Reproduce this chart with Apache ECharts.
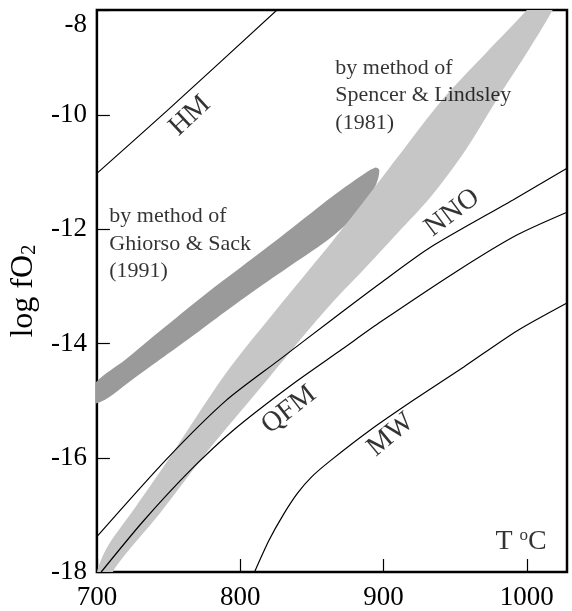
<!DOCTYPE html>
<html>
<head>
<meta charset="utf-8">
<script src="https://cdn.jsdelivr.net/npm/echarts@6/dist/echarts.min.js"></script>
<style>
  html, body { margin: 0; padding: 0; background: #fff; }
  #chart { width: 572px; height: 611px; }
</style>
</head>
<body>
<div id="chart"></div>
<script>
// tick labels
const xTickLabels = ['700', '800', '900', '1000']
const yTickLabels = ['-18', '-16', '-14', '-12', '-10', '-8']

// buffer curves, [T °C, log fO2]
const hmLine = [[700, -11.02], [750, -9.9], [830, -8.06]]
const nnoLine = [[700, -17.38], [748, -16.04], [790, -15.0], [827, -14.29], [863, -13.6], [898, -12.94], [933, -12.31], [990, -11.49], [1028, -10.93]]
const qfmLine = [[703, -18.0], [732, -17.12], [766, -16.2], [796, -15.5], [836, -14.72], [871, -14.1], [898, -13.62], [952, -12.72], [993, -12.1], [1028, -11.7]]
const mwLine = [[810, -18.0], [820, -17.45], [830, -17.0], [840, -16.62], [850, -16.33], [863, -16.05], [891, -15.51], [921, -14.99], [956, -14.41], [993, -13.78], [1028, -13.29]]

// estimate fields (outline of each shaded area)
const ghiorsoBand = [
  [698, -14.72], [720, -14.28], [744, -13.78], [774, -13.17], [808, -12.52], [836, -11.98], [864, -11.43], [884, -11.07], [894, -10.92],
  [897, -10.96], [895, -11.2], [886, -11.6], [864, -12.13], [836, -12.62], [810, -13.07], [789, -13.45], [766, -13.88], [744, -14.28],
  [720, -14.72], [706, -14.98], [698, -15.04]
]
const spencerBand = [
  [699, -18.2], [706, -17.62], [727, -16.86], [748, -16.1], [790, -14.52], [827, -13.35], [864, -12.22], [882, -11.65], [910, -10.73],
  [941, -9.73], [972, -8.9], [1000, -8.16], [1012, -7.8],
  [1024, -7.8], [1018, -8.16], [999, -8.95], [979, -9.73], [956, -10.66], [933, -11.43], [910, -12.06], [886, -12.71], [864, -13.29],
  [847, -13.78], [813, -14.81], [778, -15.86], [744, -16.97], [712, -17.95], [710, -18.2]
]

const bufferNames = ['HM', 'NNO', 'QFM', 'MW']
const ghiorsoText = 'by method of\nGhiorso & Sack\n(1991)'
const spencerText = 'by method of\nSpencer & Lindsley\n(1981)'

const FONT = '"Liberation Serif", "Times New Roman", serif'

const bandSeries = (points, fill) => ({
  type: 'custom',
  clip: true,
  silent: true,
  data: [0],
  renderItem: (params, api) => ({
    type: 'polygon',
    shape: { points: points.map(p => api.coord(p)), smooth: 0.3 },
    style: { fill: fill }
  })
})

const lineSeries = data => ({
  type: 'line',
  data: data,
  showSymbol: false,
  smooth: 0.25,
  clip: true,
  silent: true,
  lineStyle: { color: '#000', width: 1.2 }
})

// rotated buffer name sitting next to its curve
const tag = (value, text, rotate) => ({
  value: value,
  label: { rotate: rotate, formatter: text, color: '#000', fontFamily: FONT, fontSize: 28 }
})

const note = (value, text) => ({
  value: value,
  label: {
    position: 'right', distance: 0, align: 'left', color: '#000',
    fontFamily: FONT, fontSize: 22, lineHeight: 27.5, formatter: text
  }
})

const chart = echarts.init(document.getElementById('chart'))

chart.setOption({
  animation: false,
  grid: { left: 93, right: 5, top: 10, bottom: 39, show: true, borderColor: '#000', borderWidth: 2.5 },
  xAxis: {
    type: 'value',
    min: 700,
    max: 1028,
    interval: 100,
    axisLine: { show: false },
    axisTick: { inside: true, length: 13, lineStyle: { color: '#000', width: 1.2 } },
    splitLine: { show: false },
    axisLabel: {
      showMaxLabel: false,
      margin: 12,
      color: '#000',
      fontFamily: FONT,
      fontSize: 27,
      formatter: (v, i) => xTickLabels[i] ?? ''
    }
  },
  yAxis: {
    type: 'value',
    min: -18,
    max: -8.16,
    interval: 2,
    name: '{a|log fO}{b|2}',
    nameLocation: 'middle',
    nameGap: 48,
    nameTextStyle: {
      rich: {
        a: { fontFamily: FONT, fontSize: 32, color: '#000', verticalAlign: 'bottom' },
        b: { fontFamily: FONT, fontSize: 21, color: '#000', verticalAlign: 'bottom' }
      }
    },
    axisLine: { show: false },
    axisTick: { inside: true, length: 13, lineStyle: { color: '#000', width: 1.2 } },
    splitLine: { show: false },
    axisLabel: {
      margin: 10,
      color: '#000',
      fontFamily: FONT,
      fontSize: 27,
      formatter: (v, i) => i === yTickLabels.length - 1 ? '{low|' + yTickLabels[i] + '}' : yTickLabels[i],
      rich: {
        low: { fontFamily: FONT, fontSize: 27, color: '#000', padding: [30, 0, 0, 0] }
      }
    }
  },
  series: [
    bandSeries(ghiorsoBand, '#9a9a9a'),
    bandSeries(spencerBand, '#c6c6c6'),
    lineSeries(hmLine),
    lineSeries(nnoLine),
    lineSeries(qfmLine),
    lineSeries(mwLine),
    {
      type: 'scatter',
      silent: true,
      symbolSize: 1,
      itemStyle: { color: 'rgba(0,0,0,0)' },
      label: { show: true, position: 'inside', color: '#000', fontFamily: FONT },
      data: [
        tag([765, -10.01], bufferNames[0], 43),
        tag([948, -11.71], bufferNames[1], 37),
        tag([834, -15.16], bufferNames[2], 38),
        tag([905, -15.6], bufferNames[3], 40),
        note([708.3, -12.26], ghiorsoText),
        note([866, -9.66], spencerText),
        {
          value: [996, -17.46],
          label: {
            formatter: '{t|T }{d|o}{t|C}',
            rich: {
              t: { fontFamily: FONT, fontSize: 28, color: '#000', verticalAlign: 'bottom' },
              d: { fontFamily: FONT, fontSize: 17, color: '#000', verticalAlign: 'top' }
            }
          }
        }
      ]
    }
  ]
})
</script>
</body>
</html>
